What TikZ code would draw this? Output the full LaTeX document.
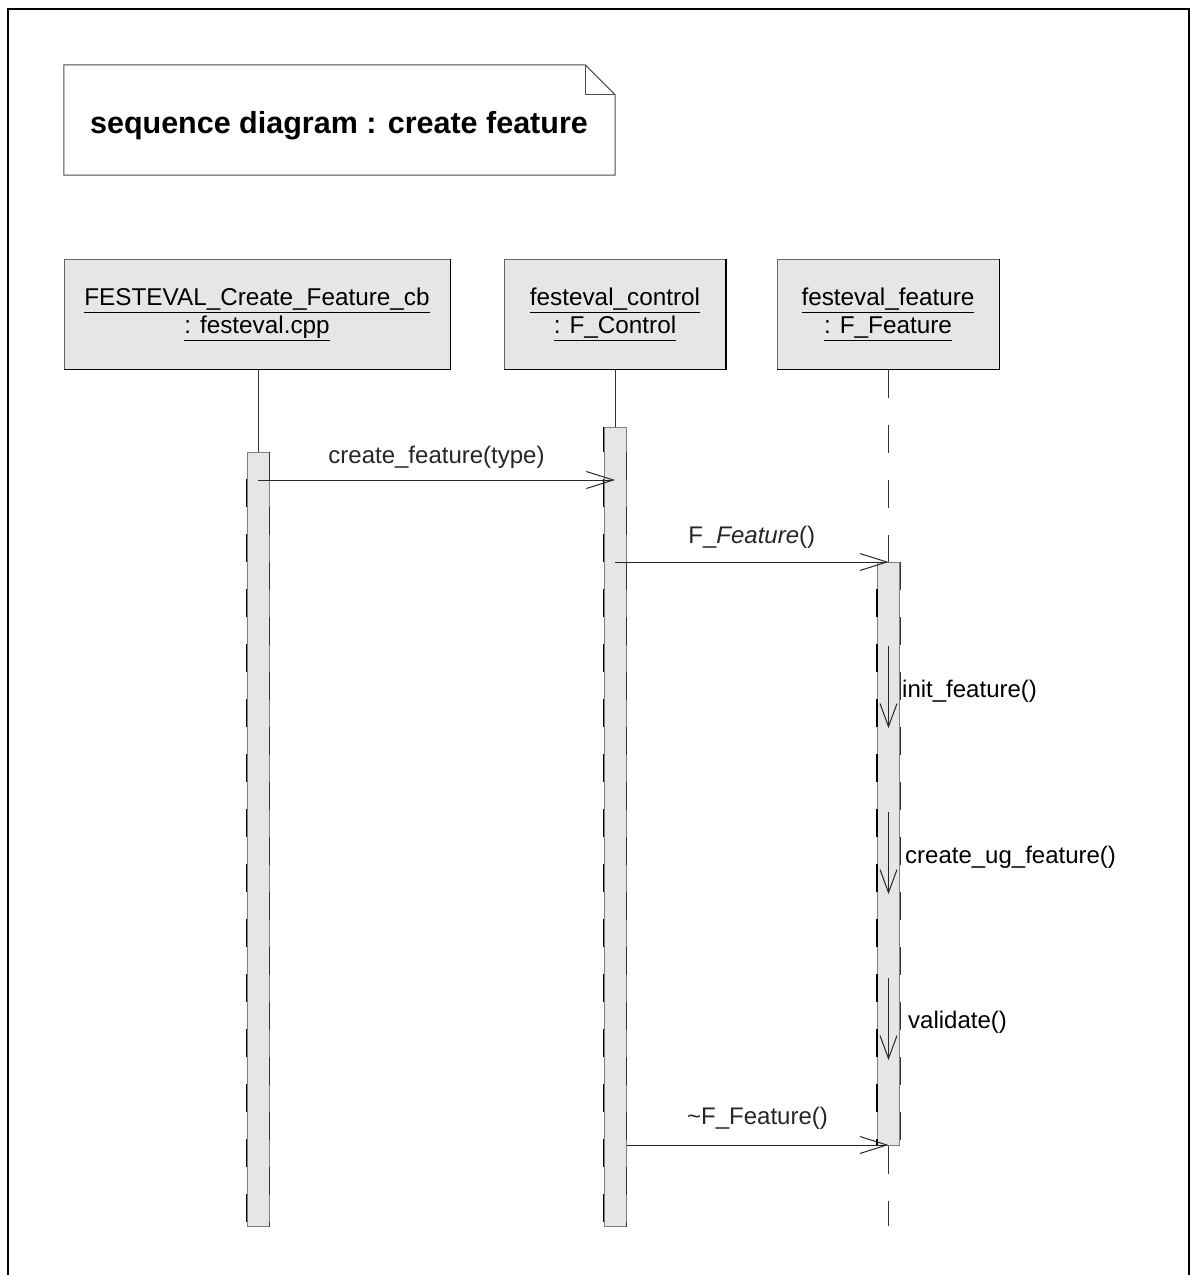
\documentclass[tikz,border=0pt]{standalone}
\usepackage{fontspec}
\setmainfont{Liberation Sans}
\usetikzlibrary{arrows.meta}
\definecolor{boxgray}{HTML}{E6E6E6}
\newcommand\ulx[1]{\underline{#1\vphantom{p}}}
\begin{document}
\begin{tikzpicture}[x=1pt,y=-1pt,
  objbox/.style={fill=boxgray, draw=black!60, line width=1pt, minimum width=#1, minimum height=110pt, align=center, inner sep=0pt, font=\fontsize{24.3}{28}\selectfont},
  actbar/.style={fill=boxgray, draw=black!50, line width=1pt, minimum width=22pt, minimum height=#1, inner sep=0pt, anchor=north},
  msg/.style={line width=1pt, black!85, -{Straight Barb[length=27pt,width=17pt,line width=1pt]}},
  selfmsg/.style={line width=1pt, black!85, -{Straight Barb[length=23pt,width=17pt,line width=1pt]}},
  lbl/.style={font=\fontsize{24}{28}\selectfont, inner sep=0pt},
  life/.style={line width=1pt, black!80},
  lifedash/.style={life, dash pattern=on 28pt off 27pt},
  baredge/.style={line width=1.4pt, black, dash pattern=on 28pt off 27pt},
  shadowedge/.style={line width=1.6pt, black}
]
\useasboundingbox (0,0) rectangle (1190,1275);

% outer frame
\draw[line width=2pt] (8,1280) -- (8,9) -- (1189,9) -- (1189,1280);

% title note
\node[minimum width=551pt, minimum height=110pt, inner sep=0pt] (note) at (339.5,120) {};
\draw[line width=1pt, black!70] (note.north west) -- ([xshift=-30pt]note.north east) -- ([yshift=-30pt]note.north east) -- (note.south east) -- (note.south west) -- cycle;
\draw[line width=1pt, black!70] ([xshift=-30pt]note.north east) -- ([xshift=-30pt,yshift=-30pt]note.north east) -- ([yshift=-30pt]note.north east);
\node[font=\bfseries\fontsize{30.5}{36}\selectfont, inner sep=0pt, anchor=base] (title) at (339,133) {sequence diagram : create feature};

% objects
\node[objbox=386pt] (o1) at (257,314) {\ulx{FESTEVAL\_Create\_Feature\_cb}\\\ulx{: festeval.cpp}};
\node[objbox=221pt] (o2) at (615,314) {\ulx{festeval\_control}\\\ulx{: F\_Control}};
\node[objbox=222pt] (o3) at (888,314) {\ulx{festeval\_feature}\\\ulx{: F\_Feature}};
\foreach \o in {o1,o2,o3}{
  \draw[shadowedge] (\o.north east) -- (\o.south east) -- (\o.south west);
}

% activation bars
\node[actbar=774pt] (a1) at (258,452) {};
\node[actbar=799pt] (a2) at (615,427) {};
\node[actbar=583pt] (a3) at (888.5,562) {};
\draw[baredge, dash phase=28pt] (a1.north west) -- (a1.south west);
\draw[baredge, line width=0.9pt, black!80, dash phase=0pt] (a1.north east) -- (a1.south east);
\draw[baredge, dash phase=3pt] (a2.north west) -- (a2.south west);
\draw[baredge, line width=0.9pt, black!80, dash phase=30pt] (a2.north east) -- (a2.south east);
\draw[baredge, dash phase=28pt] (a3.north west) -- (a3.south west);
\draw[baredge, line width=0.9pt, black!80, dash phase=0pt] (a3.north east) -- (a3.south east);

% lifelines
\draw[life] (a1.north |- o1.south) -- (a1.north);
\draw[life] (a2.north |- o2.south) -- (a2.north);
\draw[lifedash] (a3.north |- o3.south) -- (a3.north);
\coordinate (end3) at (888.5,1226);
\draw[lifedash] (a3.south) -- (end3);

% messages
\coordinate (m1s) at (258,480);
\coordinate (m1e) at (615,480);
\draw[msg] (m1s) -- node[lbl, anchor=base, yshift=17pt] (l1) {create\_feature(type)} (m1e);

\coordinate (m2s) at (615,562);
\coordinate (m2e) at (888.5,562);
\draw[msg] (m2s) -- node[lbl, anchor=base, yshift=19pt] (l2) {F\_\textit{Feature}()} (m2e);

\coordinate (s1s) at (888.5,646);
\coordinate (s1e) at (888.5,728);
\draw[selfmsg] (s1s) -- (s1e);
\node[lbl, anchor=base west] (l3) at (902,697) {init\_feature()};

\coordinate (s2s) at (888.5,812);
\coordinate (s2e) at (888.5,894);
\draw[selfmsg] (s2s) -- (s2e);
\node[lbl, anchor=base west] (l4) at (905,863) {create\_ug\_feature()};

\coordinate (s3s) at (888.5,978);
\coordinate (s3e) at (888.5,1060);
\draw[selfmsg] (s3s) -- (s3e);
\node[lbl, anchor=base west] (l5) at (908,1028) {validate()};

\coordinate (m4s) at (a2.east |- 0,1145);
\coordinate (m4e) at (888.5,1145);
\draw[msg] (m4s) -- node[lbl, anchor=base, yshift=21pt] (l6) {\textasciitilde F\_Feature()} (m4e);
\end{tikzpicture}
\end{document}
